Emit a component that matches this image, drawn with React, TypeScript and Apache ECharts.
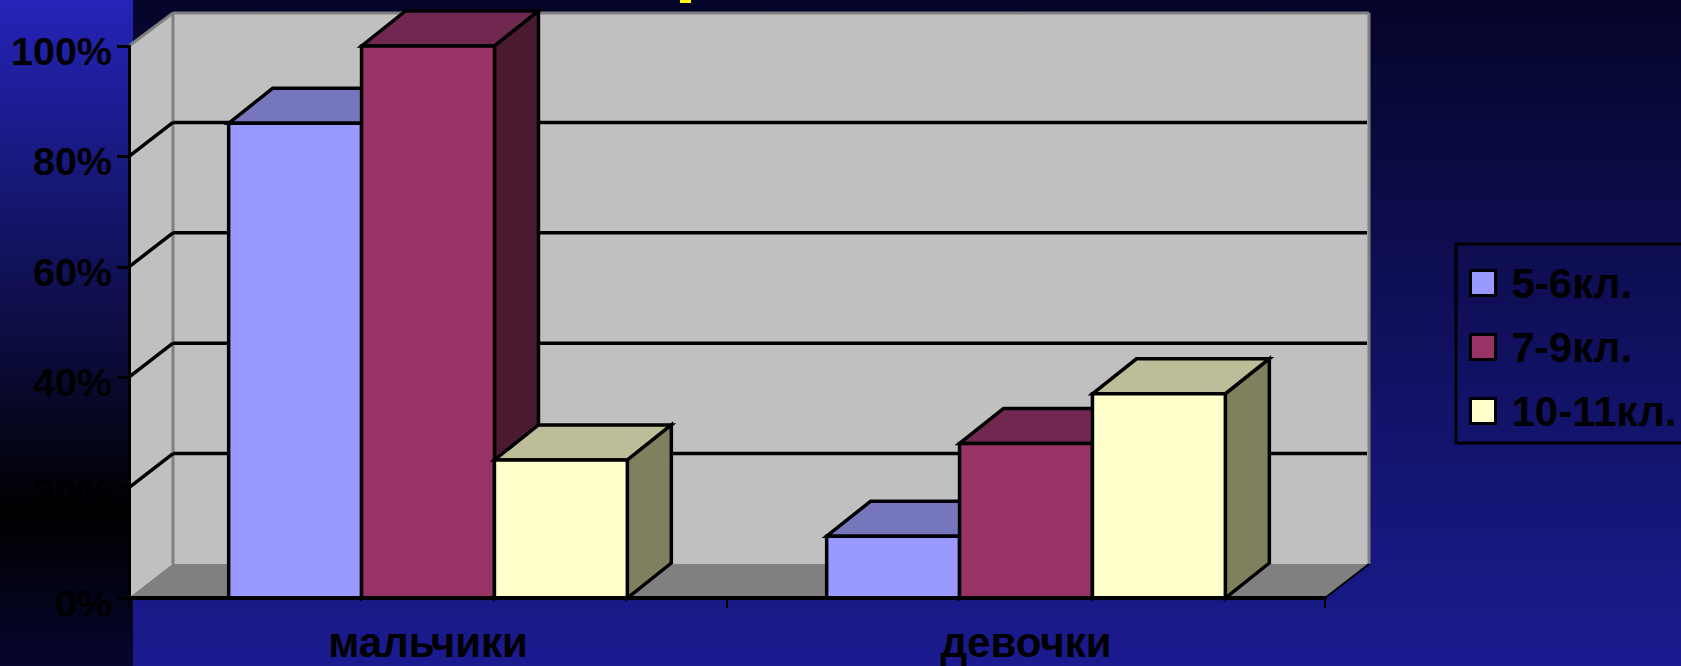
import React, { useEffect, useRef } from "react";
import * as echarts from "echarts";

const categories = ["мальчики", "девочки"];
const seriesNames = ["5-6кл.", "7-9кл.", "10-11кл."];
const grade56 = [86, 11.2];
const grade79 = [100, 28];
const grade1011 = [25, 37];
const valueTicks = [0, 20, 40, 60, 80, 100];

const frontColors = ["#9999ff", "#993366", "#ffffcc"];
const topColors = ["#7676bd", "#702750", "#bdbd99"];
const sideColors = ["#4d4d80", "#4a1a31", "#80805f"];

const FONT = '"Liberation Sans", Arial, sans-serif';
const BAR_DX = 44;
const BAR_DY = 35;
const WALL_DX = 44;
const WALL_DY = 34;

function barSeries(name: string, values: number[], idx: number) {
  return {
    type: "custom",
    name,
    z: 3 + idx,
    itemStyle: { color: frontColors[idx] },
    encode: { x: 0, y: 1 },
    data: values.map((v, i) => [i, v]),
    renderItem: (_p: any, api: any) => {
      const cat = api.value(0);
      const val = api.value(1);
      const band = api.size([1, 0])[0];
      const w = band / 4.5;
      const base = api.coord([cat, 0]);
      const top = api.coord([cat, val]);
      const x0 = base[0] - 1.5 * w + idx * w;
      const x1 = x0 + w;
      const yb = base[1];
      const yt = top[1];
      const stroke = { stroke: "#000", lineWidth: 3.5, lineJoin: "miter" };
      return {
        type: "group",
        children: [
          {
            type: "polygon",
            shape: { points: [[x0, yt], [x0 + BAR_DX, yt - BAR_DY], [x1 + BAR_DX, yt - BAR_DY], [x1, yt]] },
            style: { fill: topColors[idx], ...stroke },
          },
          {
            type: "polygon",
            shape: { points: [[x1, yt], [x1 + BAR_DX, yt - BAR_DY], [x1 + BAR_DX, yb - BAR_DY], [x1, yb]] },
            style: { fill: sideColors[idx], ...stroke },
          },
          {
            type: "rect",
            shape: { x: x0, y: yt, width: w, height: yb - yt },
            style: { fill: frontColors[idx], ...stroke },
          },
        ],
      };
    },
  };
}

export default function App() {
  const ref = useRef<HTMLDivElement>(null);
  useEffect(() => {
    if (!ref.current) return;
    const chart = echarts.init(ref.current, undefined, { renderer: "svg" });
    const W = 1681;
    const H = 666;
    chart.setOption({
      animation: false,
      tooltip: { show: false },
      grid: {
        left: 129,
        right: W - 1325,
        top: 46,
        bottom: H - 598,
        containLabel: false,
        outerBoundsMode: "none",
      },
      graphic: [
        {
          type: "rect",
          z: -10,
          shape: { x: 0, y: 0, width: W, height: H },
          style: {
            fill: new echarts.graphic.LinearGradient(0, 0, 0, 1, [
              { offset: 0, color: "#05052a" },
              { offset: 1, color: "#1b1b90" },
            ]),
          },
        },
        {
          type: "rect",
          z: -9,
          shape: { x: 0, y: 0, width: 133, height: H },
          style: {
            fill: new echarts.graphic.LinearGradient(0, 0, 0, 1, [
              { offset: 0, color: "#2424b9" },
              { offset: 0.77, color: "#000000" },
              { offset: 1, color: "#06062e" },
            ]),
          },
        },
        { type: "rect", z: 1, shape: { x: 680, y: 0, width: 11, height: 3 }, style: { fill: "#ffff00" } },
      ],
      legend: {
        data: seriesNames,
        orient: "vertical",
        left: 1456,
        top: 244,
        padding: [18, 40, 11, 13],
        itemGap: 22,
        itemWidth: 25,
        itemHeight: 25,
        icon: "rect",
        borderColor: "#000",
        borderWidth: 3,
        itemStyle: { borderColor: "#000", borderWidth: 3 },
        textStyle: {
          color: "#000",
          fontFamily: FONT,
          fontWeight: "bold",
          fontSize: 42,
          lineHeight: 1,
          padding: [0, 0, 0, 11],
        },
        selectedMode: false,
      },
      xAxis: {
        type: "category",
        data: categories,
        z: 10,
        axisLine: { lineStyle: { color: "#000", width: 4 } },
        axisTick: { show: true, length: 10, lineStyle: { color: "#000", width: 2 } },
        axisLabel: {
          color: "#000",
          fontFamily: FONT,
          fontWeight: "bold",
          fontSize: 42,
          lineHeight: 30,
          margin: 29,
          interval: 0,
        },
        splitLine: { show: false },
      },
      yAxis: {
        type: "value",
        min: 0,
        max: 100,
        interval: 20,
        z: 10,
        axisLine: { show: true, lineStyle: { color: "#000", width: 3 } },
        axisTick: { show: true, length: 12, lineStyle: { color: "#000", width: 3 } },
        axisLabel: {
          color: "#000",
          fontFamily: FONT,
          fontWeight: "bold",
          fontSize: 39.5,
          margin: 17,
          formatter: "{value}%",
          verticalAlign: "top",
          lineHeight: 10,
        },
        splitLine: { show: false },
      },
      series: [
        {
          type: "custom",
          name: "walls",
          z: 1,
          silent: true,
          encode: { x: 0, y: 1 },
          data: [[0, 0]],
          renderItem: (p: any, api: any) => {
            const c = p.coordSys;
            const x0 = c.x;
            const x1 = c.x + c.width;
            const y0 = api.coord([0, 0])[1];
            const yt = api.coord([0, 100])[1];
            const bx0 = x0 + WALL_DX;
            const bx1 = x1 + WALL_DX;
            const by0 = y0 - WALL_DY;
            const byt = yt - WALL_DY + 1;
            const grey = { stroke: "#808080", lineWidth: 3 };
            return {
              type: "group",
              children: [
                {
                  type: "polygon",
                  shape: { points: [[x0, y0], [bx0, by0], [bx1, by0], [x1, y0]] },
                  style: { fill: "#808080" },
                },
                {
                  type: "polygon",
                  shape: { points: [[x0, yt], [bx0, byt], [bx0, by0], [x0, y0]] },
                  style: { fill: "#c0c0c0" },
                },
                {
                  type: "rect",
                  shape: { x: bx0, y: byt, width: bx1 - bx0, height: by0 - byt },
                  style: { fill: "#c0c0c0" },
                },
                { type: "line", shape: { x1: bx0, y1: byt, x2: bx0, y2: by0 }, style: grey },
                { type: "line", shape: { x1: bx0, y1: byt, x2: bx1, y2: byt }, style: grey },
                { type: "line", shape: { x1: bx1, y1: byt, x2: bx1, y2: by0 }, style: grey },
                { type: "line", shape: { x1: x0, y1: yt, x2: bx0, y2: byt }, style: grey },
                {
                  type: "line",
                  shape: { x1: x1, y1: y0, x2: bx1, y2: by0 },
                  style: { stroke: "#000", lineWidth: 2 },
                },
              ],
            };
          },
        },
        {
          type: "custom",
          name: "gridlines",
          z: 2,
          silent: true,
          encode: { x: 0, y: 1 },
          data: valueTicks.slice(1, -1).map((v) => [0, v]),
          renderItem: (p: any, api: any) => {
            const c = p.coordSys;
            const y = api.coord([0, api.value(1)])[1];
            const line = { stroke: "#000", lineWidth: 3.5 };
            return {
              type: "group",
              children: [
                { type: "line", shape: { x1: c.x, y1: y, x2: c.x + WALL_DX, y2: y - WALL_DY }, style: line },
                {
                  type: "line",
                  shape: { x1: c.x + WALL_DX, y1: y - WALL_DY, x2: c.x + c.width + WALL_DX - 2, y2: y - WALL_DY },
                  style: line,
                },
              ],
            };
          },
        },
        barSeries(seriesNames[0], grade56, 0),
        barSeries(seriesNames[1], grade79, 1),
        barSeries(seriesNames[2], grade1011, 2),
      ],
    });
    return () => chart.dispose();
  }, []);
  return <div ref={ref} style={{ position: "absolute", left: 0, top: 0, width: 1681, height: 666 }} />;
}
